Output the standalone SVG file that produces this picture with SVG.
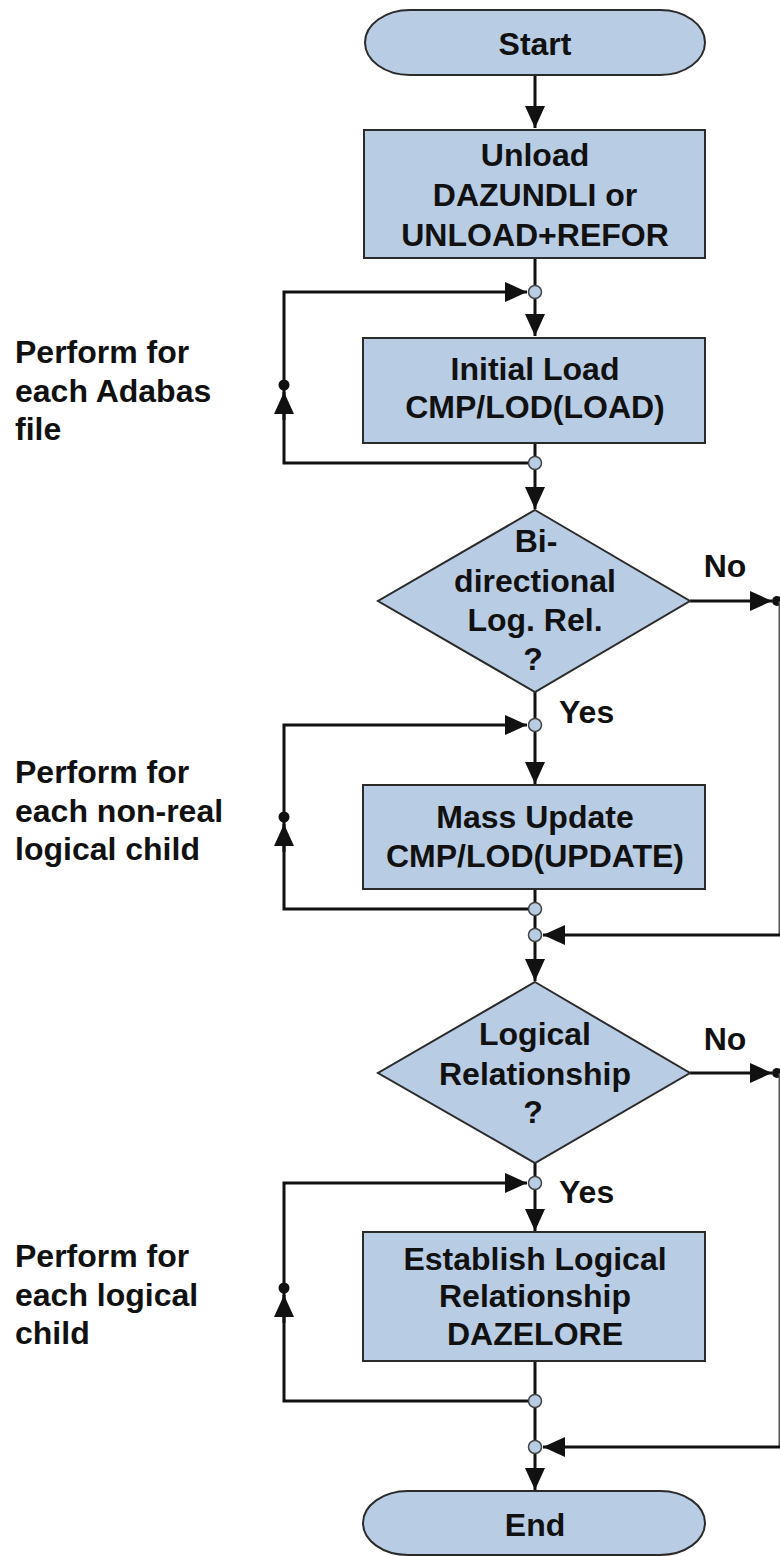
<svg xmlns="http://www.w3.org/2000/svg" width="780" height="1556" viewBox="0 0 780 1556">
  <defs>
    <style>
      .shape { fill: #b8cce4; stroke: #2b2b2b; stroke-width: 2; }
      .lbl { font-family: "Liberation Sans", Arial, sans-serif; font-weight: bold; font-size: 32px; fill: #111; }
      .c { text-anchor: middle; }
      .conn { fill: none; stroke: #111; stroke-width: 3; }
      .edge { fill: none; stroke: #555; stroke-width: 3; }
      .junc { fill: #b8cce4; stroke: #444; stroke-width: 1.5; }
      .dot { fill: #111; }
    </style>
    <marker id="arrow" viewBox="0 0 22 20" markerWidth="22" markerHeight="20" refX="22" refY="10" orient="auto" markerUnits="userSpaceOnUse">
      <path d="M0,0 L22,10 L0,20 z" fill="#111"/>
    </marker>
  </defs>
  <rect width="780" height="1556" fill="#ffffff"/>

  <g id="connectors">
    <path class="conn" d="M535,75 V128" marker-end="url(#arrow)"/>
    <path class="conn" d="M535,258 V336" marker-end="url(#arrow)"/>
    <path class="conn" d="M528,463 H284 V292 H527" marker-end="url(#arrow)"/>
    <path class="conn" d="M284,420 V392" marker-end="url(#arrow)"/>
    <circle class="dot" cx="284" cy="385" r="5.5"/>
    <path class="conn" d="M535,443 V509" marker-end="url(#arrow)"/>
    <path class="conn" d="M690,601 H772" marker-end="url(#arrow)"/>
    <circle class="dot" cx="777" cy="601" r="5"/>
    <path class="conn" d="M535,692 V784" marker-end="url(#arrow)"/>
    <path class="conn" d="M528,909 H284 V725 H527" marker-end="url(#arrow)"/>
    <path class="conn" d="M284,852 V824" marker-end="url(#arrow)"/>
    <circle class="dot" cx="284" cy="817" r="5.5"/>
    <path class="conn" d="M535,889 V981" marker-end="url(#arrow)"/>
    <path class="edge" d="M780,601 V935"/>
    <path class="conn" d="M780,935 H543" marker-end="url(#arrow)"/>
    <path class="conn" d="M690,1073 H772" marker-end="url(#arrow)"/>
    <circle class="dot" cx="777" cy="1073" r="5"/>
    <path class="edge" d="M780,1073 V1447"/>
    <path class="conn" d="M780,1447 H543" marker-end="url(#arrow)"/>
    <path class="conn" d="M535,1163 V1231" marker-end="url(#arrow)"/>
    <path class="conn" d="M528,1401 H284 V1183 H527" marker-end="url(#arrow)"/>
    <path class="conn" d="M284,1323 V1295" marker-end="url(#arrow)"/>
    <circle class="dot" cx="284" cy="1288" r="5.5"/>
    <path class="conn" d="M535,1361 V1490" marker-end="url(#arrow)"/>
  </g>

  <g id="junctions">
    <circle class="junc" cx="535" cy="292" r="6.5"/>
    <circle class="junc" cx="535" cy="463" r="6.5"/>
    <circle class="junc" cx="535" cy="725" r="6.5"/>
    <circle class="junc" cx="535" cy="909" r="6.5"/>
    <circle class="junc" cx="535" cy="935" r="6.5"/>
    <circle class="junc" cx="535" cy="1183" r="6.5"/>
    <circle class="junc" cx="535" cy="1401" r="6.5"/>
    <circle class="junc" cx="535" cy="1447" r="6.5"/>
  </g>

  <g id="start">
    <rect class="shape" x="365" y="10" width="340" height="65" rx="45" ry="32.5"/>
    <text class="lbl c" x="535" y="55">Start</text>
  </g>

  <g id="unload">
    <rect class="shape" x="364" y="130" width="341" height="128"/>
    <text class="lbl c" x="535" y="166">Unload</text>
    <text class="lbl c" x="535" y="206">DAZUNDLI or</text>
    <text class="lbl c" x="535" y="246">UNLOAD+REFOR</text>
  </g>

  <g id="initial-load">
    <rect class="shape" x="363" y="338" width="342" height="105"/>
    <text class="lbl c" x="535" y="380">Initial Load</text>
    <text class="lbl c" x="535" y="418">CMP/LOD(LOAD)</text>
  </g>

  <g id="decision-bidirectional">
    <polygon class="shape" points="535,510 690,601 535,692 378,601"/>
    <text class="lbl c" x="536" y="552">Bi-</text>
    <text class="lbl c" x="535" y="592">directional</text>
    <text class="lbl c" x="535" y="631">Log. Rel.</text>
    <text class="lbl c" x="533" y="670">?</text>
  </g>

  <g id="mass-update">
    <rect class="shape" x="363" y="785" width="342" height="104"/>
    <text class="lbl c" x="535" y="828">Mass Update</text>
    <text class="lbl c" x="535" y="867">CMP/LOD(UPDATE)</text>
  </g>

  <g id="decision-logical">
    <polygon class="shape" points="535,982 690,1073 535,1163 378,1073"/>
    <text class="lbl c" x="535" y="1045">Logical</text>
    <text class="lbl c" x="535" y="1085">Relationship</text>
    <text class="lbl c" x="533" y="1123">?</text>
  </g>

  <g id="establish">
    <rect class="shape" x="363" y="1232" width="342" height="129"/>
    <text class="lbl c" x="535" y="1270">Establish Logical</text>
    <text class="lbl c" x="535" y="1307">Relationship</text>
    <text class="lbl c" x="535" y="1345">DAZELORE</text>
  </g>

  <g id="end">
    <rect class="shape" x="363" y="1491" width="342" height="64" rx="45" ry="32"/>
    <text class="lbl c" x="535" y="1536">End</text>
  </g>

  <g id="labels">
    <text class="lbl c" x="725" y="577">No</text>
    <text class="lbl c" x="725" y="1050">No</text>
    <text class="lbl" x="559" y="723">Yes</text>
    <text class="lbl" x="559" y="1203">Yes</text>
    <text class="lbl" x="15" y="363">Perform for</text>
    <text class="lbl" x="15" y="402">each Adabas</text>
    <text class="lbl" x="15" y="440">file</text>
    <text class="lbl" x="15" y="783">Perform for</text>
    <text class="lbl" x="15" y="822">each non-real</text>
    <text class="lbl" x="15" y="860">logical child</text>
    <text class="lbl" x="15" y="1267">Perform for</text>
    <text class="lbl" x="15" y="1306">each logical</text>
    <text class="lbl" x="15" y="1344">child</text>
  </g>
</svg>
